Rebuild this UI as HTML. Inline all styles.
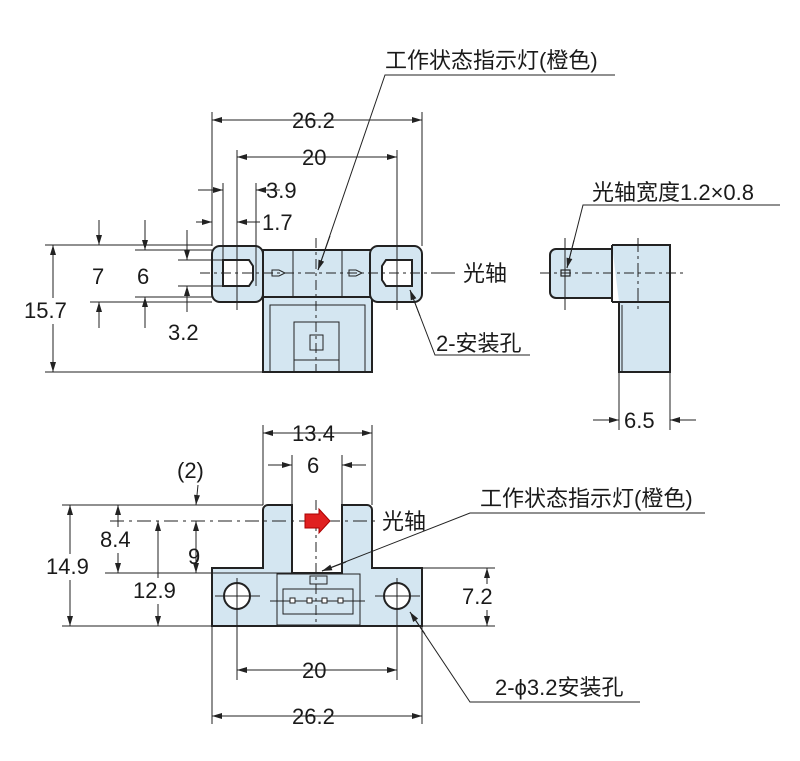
<!DOCTYPE html>
<html><head><meta charset="utf-8"><style>
body{margin:0;background:#fff}
svg text{font-family:"Liberation Sans","Noto Sans CJK SC",sans-serif;font-size:22px;fill:#1a1a1a}
</style></head><body>
<svg width="800" height="756" xmlns="http://www.w3.org/2000/svg">
<defs>
<marker id="a" viewBox="0 0 10 6" refX="10" refY="3" markerWidth="11" markerHeight="6" orient="auto-start-reverse" markerUnits="userSpaceOnUse"><path d="M0,0L10,3L0,6z" fill="#222"/></marker>
</defs>
<g stroke="#222" stroke-width="1" fill="none">
<g fill="#d4e6f1" stroke="#222" stroke-width="2">
<rect x="263" y="297" width="109" height="75"/>
<rect x="263" y="250" width="109" height="47"/>
<rect x="212" y="246" width="51" height="56" rx="8"/>
<rect x="370" y="246" width="52" height="56" rx="8"/>
</g>
<rect x="270" y="305" width="95" height="67"/>
<rect x="294" y="322" width="45" height="50"/>
<rect x="310" y="335" width="13" height="15"/>
<line x1="294" y1="360" x2="339" y2="360"/>
<line x1="293" y1="250" x2="293" y2="297"/><line x1="342" y1="250" x2="342" y2="297"/>
<path d="M223,260h26l4,6v14l-4,6h-26z" fill="#fff" stroke-width="2"/>
<path d="M412,260h-26l-4,6v14l4,6h26z" fill="#fff" stroke-width="2"/>
<path d="M272,270h7l6,3l-6,3h-7z"/><path d="M349,270h7l6,3l-6,3h-7z"/>
<line x1="200" y1="273" x2="440" y2="273" stroke-dasharray="10,4,3,4"/>
<line x1="316" y1="238" x2="316" y2="372" stroke-dasharray="10,4,3,4"/>
<line x1="237" y1="220" x2="237" y2="310"/><line x1="397" y1="150" x2="397" y2="310"/>
<line x1="212" y1="112" x2="212" y2="246"/><line x1="422" y1="112" x2="422" y2="246"/>
<line x1="237" y1="150" x2="237" y2="220"/>
<line x1="223" y1="183" x2="223" y2="260"/><line x1="256" y1="183" x2="256" y2="286"/>
<line x1="212" y1="120" x2="422" y2="120" marker-start="url(#a)" marker-end="url(#a)"/>
<line x1="237" y1="157" x2="397" y2="157" marker-start="url(#a)" marker-end="url(#a)"/>
<line x1="198" y1="190" x2="223" y2="190" marker-end="url(#a)"/><line x1="280" y1="190" x2="256" y2="190" marker-end="url(#a)"/>
<line x1="196" y1="222" x2="212" y2="222" marker-end="url(#a)"/><line x1="260" y1="222" x2="237" y2="222" marker-end="url(#a)"/>
<line x1="45" y1="245" x2="212" y2="245"/><line x1="45" y1="372" x2="263" y2="372"/>
<line x1="90" y1="302" x2="212" y2="302"/><line x1="135" y1="250" x2="212" y2="250"/><line x1="135" y1="297" x2="212" y2="297"/>
<line x1="178" y1="260" x2="223" y2="260"/><line x1="178" y1="286" x2="223" y2="286"/>
<line x1="53" y1="245" x2="53" y2="372" marker-start="url(#a)" marker-end="url(#a)"/>
<line x1="99" y1="220" x2="99" y2="245" marker-end="url(#a)"/><line x1="99" y1="328" x2="99" y2="302" marker-end="url(#a)"/>
<line x1="145" y1="220" x2="145" y2="250" marker-end="url(#a)"/><line x1="145" y1="328" x2="145" y2="297" marker-end="url(#a)"/>
<line x1="187" y1="230" x2="187" y2="260" marker-end="url(#a)"/><line x1="187" y1="312" x2="187" y2="286" marker-end="url(#a)"/>
<polyline points="615,75 385,75 318,270" /><line x1="330" y1="236" x2="318" y2="270" marker-end="url(#a)"/>
<polyline points="530,355 435,355 410,290"/><line x1="420" y1="316" x2="410" y2="290" marker-end="url(#a)"/>
<line x1="432" y1="273" x2="455" y2="273"/>
<g fill="#d4e6f1" stroke-width="2">
<path d="M619,302h51v70h-51z"/>
<path d="M612,245h58v57h-51v0"/>
<path d="M556,249h56v49h-56a6,6 0 0 1-6-6v-37a6,6 0 0 1 6-6z"/>
</g>
<line x1="612" y1="245" x2="612" y2="302" stroke-width="2"/>
<line x1="612" y1="302" x2="670" y2="302" stroke-width="2"/>
<line x1="622" y1="305" x2="622" y2="372"/>
<rect x="561" y="270" width="9" height="6" stroke-width="1.2"/>
<line x1="540" y1="273" x2="685" y2="273" stroke-dasharray="10,4,3,4"/>
<line x1="565" y1="238" x2="565" y2="310"/><line x1="638" y1="238" x2="638" y2="310" stroke-dasharray="14,4,3,4"/>
<polyline points="780,205 583,205 567,268"/><line x1="574" y1="240" x2="567" y2="268" marker-end="url(#a)"/>
<line x1="619" y1="372" x2="619" y2="430"/><line x1="670" y1="372" x2="670" y2="430"/>
<line x1="593" y1="420" x2="619" y2="420" marker-end="url(#a)"/><line x1="696" y1="420" x2="670" y2="420" marker-end="url(#a)"/>
<path d="M212,568H263V510a5,5 0 0 1 5-5H292V573H342V505H367a5,5 0 0 1 5,5V568H422V626H212z" fill="#d4e6f1" stroke-width="2"/>
<rect x="277" y="574" width="83" height="51"/>
<rect x="283" y="589" width="70" height="25"/>
<rect x="310" y="576" width="17" height="8"/>
<circle cx="237" cy="596" r="13" fill="#fff" stroke-width="2"/><circle cx="397" cy="596" r="13" fill="#fff" stroke-width="2"/>
<line x1="270" y1="601" x2="365" y2="601"/>
<g fill="#fff"><rect x="290" y="598" width="5" height="5"/><rect x="307" y="598" width="5" height="5"/><rect x="322" y="598" width="5" height="5"/><rect x="338" y="598" width="5" height="5"/></g>
<line x1="237" y1="578" x2="237" y2="640"/><line x1="215" y1="596" x2="260" y2="596"/>
<line x1="397" y1="578" x2="397" y2="640"/><line x1="375" y1="596" x2="420" y2="596"/>
<line x1="316" y1="500" x2="316" y2="626" stroke-dasharray="10,4,3,4"/>
<line x1="110" y1="521" x2="378" y2="521" stroke-dasharray="14,5,3,5"/>
<path d="M305,514h14v-5l11,12l-11,12v-5h-14z" fill="#e02020" stroke="#a00"/>
<line x1="263" y1="425" x2="263" y2="505"/><line x1="372" y1="425" x2="372" y2="505"/>
<line x1="292" y1="455" x2="292" y2="505"/><line x1="342" y1="455" x2="342" y2="505"/>
<line x1="263" y1="433" x2="372" y2="433" marker-start="url(#a)" marker-end="url(#a)"/>
<line x1="268" y1="465" x2="292" y2="465" marker-end="url(#a)"/><line x1="366" y1="465" x2="342" y2="465" marker-end="url(#a)"/>
<line x1="198" y1="485" x2="196" y2="505" marker-end="url(#a)"/>
<line x1="62" y1="505" x2="263" y2="505"/><line x1="62" y1="626" x2="212" y2="626"/>
<line x1="105" y1="573" x2="292" y2="573"/><line x1="150" y1="626" x2="212" y2="626"/>
<line x1="70" y1="505" x2="70" y2="626" marker-start="url(#a)" marker-end="url(#a)"/>
<line x1="118" y1="505" x2="118" y2="573" marker-start="url(#a)" marker-end="url(#a)"/>
<line x1="158" y1="521" x2="158" y2="626" marker-start="url(#a)" marker-end="url(#a)"/>
<line x1="196" y1="521" x2="196" y2="573" marker-start="url(#a)" marker-end="url(#a)"/>
<line x1="422" y1="568" x2="495" y2="568"/><line x1="422" y1="626" x2="495" y2="626"/>
<line x1="487" y1="568" x2="487" y2="626" marker-start="url(#a)" marker-end="url(#a)"/>
<line x1="237" y1="626" x2="237" y2="680"/><line x1="397" y1="626" x2="397" y2="680"/>
<line x1="237" y1="670" x2="397" y2="670" marker-start="url(#a)" marker-end="url(#a)"/>
<line x1="212" y1="626" x2="212" y2="724"/><line x1="422" y1="626" x2="422" y2="724"/>
<line x1="212" y1="716" x2="422" y2="716" marker-start="url(#a)" marker-end="url(#a)"/>
<polyline points="705,513 470,513 322,571"/><line x1="346" y1="562" x2="322" y2="571" marker-end="url(#a)"/>
<polyline points="640,702 470,702 410,612"/><line x1="425" y1="634" x2="410" y2="612" marker-end="url(#a)"/>
</g>
<g fill="#fff">
<rect x="22" y="298" width="56" height="26"/>
<rect x="44" y="554" width="50" height="26"/>
<rect x="98" y="527" width="40" height="26"/>
<rect x="131" y="578" width="50" height="26"/>
<rect x="460" y="584" width="40" height="26"/>
</g>
<g>
<text x="385" y="68">工作状态指示灯(橙色)</text>
<text x="292" y="128">26.2</text>
<text x="302" y="165">20</text>
<text x="266" y="198">3.9</text>
<text x="262" y="230">1.7</text>
<text x="92" y="284">7</text>
<text x="137" y="284">6</text>
<text x="168" y="340">3.2</text>
<text x="24" y="318">15.7</text>
<text x="463" y="281">光轴</text>
<text x="436" y="351">2-安装孔</text>
<text x="592" y="200">光轴宽度1.2×0.8</text>
<text x="624" y="428">6.5</text>
<text x="292" y="441">13.4</text>
<text x="307" y="473">6</text>
<text x="177" y="478">(2)</text>
<text x="382" y="529">光轴</text>
<text x="480" y="506">工作状态指示灯(橙色)</text>
<text x="100" y="547">8.4</text>
<text x="188" y="564">9</text>
<text x="46" y="574">14.9</text>
<text x="133" y="598">12.9</text>
<text x="462" y="604">7.2</text>
<text x="302" y="678">20</text>
<text x="292" y="724">26.2</text>
<text x="495" y="695">2-ϕ3.2安装孔</text>
</g>
</svg>
</body></html>
